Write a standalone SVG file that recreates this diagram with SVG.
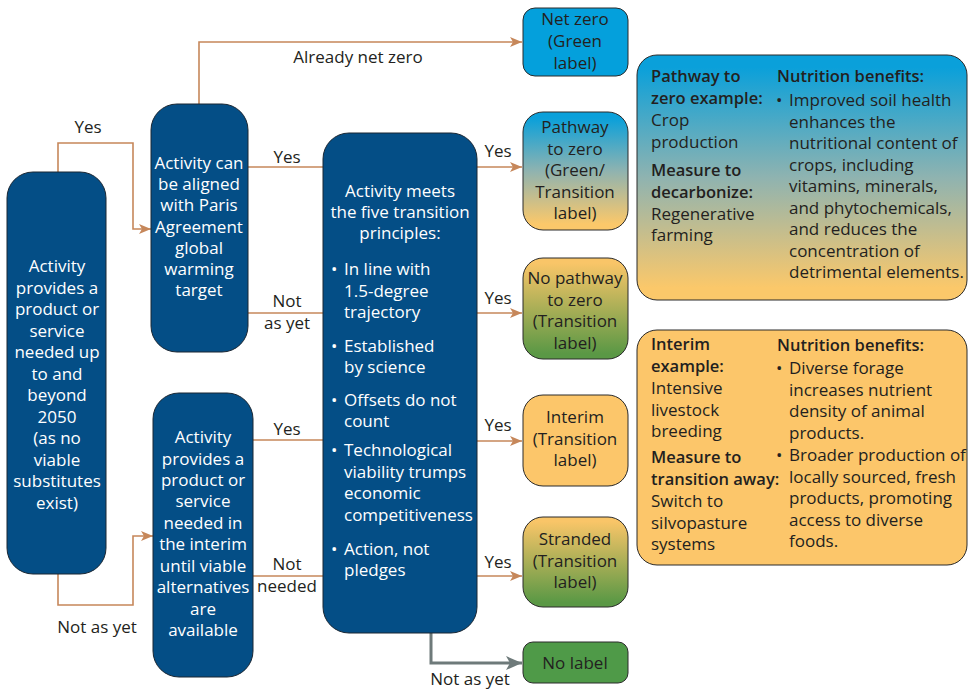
<svg xmlns="http://www.w3.org/2000/svg" width="968" height="690" viewBox="0 0 968 690">
<style>
text{font-family:"Open Sans","Liberation Sans",sans-serif;font-size:17px;fill:#231f20}
.w{fill:#ffffff;text-anchor:middle}
.c{text-anchor:middle}
.b{font-weight:600;font-size:16.5px}
.node{fill:#044e86;stroke:#1b2733;stroke-width:1}
.out{stroke:#2a2a2a;stroke-width:1}
.con{fill:none;stroke:#c6875a;stroke-width:1.6}
.gray{fill:none;stroke:#6e7a7a;stroke-width:3}
</style>
<defs>
<marker id="ah" markerWidth="12" markerHeight="10" refX="12" refY="5" orient="auto" markerUnits="userSpaceOnUse"><path d="M0,0 L12,5 L0,10 L3,5 Z" fill="#c6875a"/></marker>
<marker id="ahg" markerWidth="16" markerHeight="14" refX="16" refY="7" orient="auto" markerUnits="userSpaceOnUse"><path d="M0,0 L16,7 L0,14 L4,7 Z" fill="#6e7a7a"/></marker>
<linearGradient id="gBO" x1="0" y1="0" x2="0" y2="1"><stop offset="0.05" stop-color="#0aa0da"/><stop offset="0.5" stop-color="#8fb3b0"/><stop offset="0.95" stop-color="#fbc86a"/></linearGradient>
<linearGradient id="gOG" x1="0" y1="0" x2="0" y2="1"><stop offset="0.05" stop-color="#f9c568"/><stop offset="0.95" stop-color="#5a9845"/></linearGradient>
</defs>

<g id="connectors">
<polyline class="con" points="58,172 58,143 133,143 133,229 151,229" marker-end="url(#ah)"/>
<polyline class="con" points="58,574 58,605 133,605 133,536 153,536" marker-end="url(#ah)"/>
<polyline class="con" points="199,104 199,42 522,42" marker-end="url(#ah)"/>
<line class="con" x1="248" y1="167" x2="323" y2="167"/>
<line class="con" x1="248" y1="313" x2="323" y2="313"/>
<line class="con" x1="253" y1="440" x2="323" y2="440"/>
<line class="con" x1="253" y1="576" x2="323" y2="576"/>
<line class="con" x1="477" y1="167" x2="522" y2="167" marker-end="url(#ah)"/>
<line class="con" x1="477" y1="313" x2="522" y2="313" marker-end="url(#ah)"/>
<line class="con" x1="477" y1="441" x2="522" y2="441" marker-end="url(#ah)"/>
<line class="con" x1="477" y1="576" x2="522" y2="576" marker-end="url(#ah)"/>
<polyline class="gray" points="431,633 431,663 522,663" marker-end="url(#ahg)"/>
<text class="c" x="88" y="133">Yes</text>
<text class="c" x="97" y="633">Not as yet</text>
<text class="c" x="358" y="63">Already net zero</text>
<text class="c" x="287" y="163">Yes</text>
<text class="c" x="287" y="307">Not</text>
<text class="c" x="287" y="329">as yet</text>
<text class="c" x="287" y="435">Yes</text>
<text class="c" x="287" y="570">Not</text>
<text class="c" x="287" y="592">needed</text>
<text class="c" x="498" y="157">Yes</text>
<text class="c" x="498" y="304">Yes</text>
<text class="c" x="498" y="431">Yes</text>
<text class="c" x="498" y="568">Yes</text>
<text class="c" x="470" y="685">Not as yet</text>
</g>

<g id="n-start">
<rect class="node" x="7" y="172" width="99" height="402" rx="26"/>
<text class="w" x="57"><tspan x="57" y="272">Activity</tspan><tspan x="57" y="293.5">provides a</tspan><tspan x="57" y="315">product or</tspan><tspan x="57" y="336.5">service</tspan><tspan x="57" y="358">needed up</tspan><tspan x="57" y="379.5">to and</tspan><tspan x="57" y="401">beyond</tspan><tspan x="57" y="422.5">2050</tspan><tspan x="57" y="444">(as no</tspan><tspan x="57" y="465.5">viable</tspan><tspan x="57" y="487">substitutes</tspan><tspan x="57" y="508.5">exist)</tspan></text>
</g>

<g id="n-paris">
<rect class="node" x="151" y="104" width="97" height="248" rx="26"/>
<text class="w"><tspan x="199" y="169">Activity can</tspan><tspan x="199" y="190">be aligned</tspan><tspan x="199" y="211">with Paris</tspan><tspan x="199" y="233">Agreement</tspan><tspan x="199" y="254">global</tspan><tspan x="199" y="275">warming</tspan><tspan x="199" y="296">target</tspan></text>
</g>

<g id="n-interim">
<rect class="node" x="153" y="393" width="100" height="284" rx="26"/>
<text class="w"><tspan x="203" y="443">Activity</tspan><tspan x="203" y="465">provides a</tspan><tspan x="203" y="486">product or</tspan><tspan x="203" y="507">service</tspan><tspan x="203" y="529">needed in</tspan><tspan x="203" y="550">the interim</tspan><tspan x="203" y="572">until viable</tspan><tspan x="203" y="593">alternatives</tspan><tspan x="203" y="615">are</tspan><tspan x="203" y="636">available</tspan></text>
</g>

<g id="n-principles">
<rect class="node" x="323" y="133" width="154" height="500" rx="26"/>
<text class="w"><tspan x="400" y="197">Activity meets</tspan><tspan x="400" y="218">the five transition</tspan><tspan x="400" y="239">principles:</tspan></text>
<text style="fill:#fff"><tspan x="331" y="275">•</tspan><tspan x="344" y="275">In line with</tspan><tspan x="344" y="297">1.5-degree</tspan><tspan x="344" y="318">trajectory</tspan>
<tspan x="331" y="352">•</tspan><tspan x="344" y="352">Established</tspan><tspan x="344" y="373">by science</tspan>
<tspan x="331" y="406">•</tspan><tspan x="344" y="406">Offsets do not</tspan><tspan x="344" y="427">count</tspan>
<tspan x="331" y="456">•</tspan><tspan x="344" y="456">Technological</tspan><tspan x="344" y="478">viability trumps</tspan><tspan x="344" y="499">economic</tspan><tspan x="344" y="521">competitiveness</tspan>
<tspan x="331" y="555">•</tspan><tspan x="344" y="555">Action, not</tspan><tspan x="344" y="576">pledges</tspan></text>
</g>

<g id="o-netzero">
<rect class="out" x="523" y="8" width="105" height="68" rx="12" fill="#04a0dc"/>
<text class="c"><tspan x="575" y="25">Net zero</tspan><tspan x="575" y="47">(Green</tspan><tspan x="575" y="69">label)</tspan></text>
</g>

<g id="o-pathway">
<rect class="out" x="523" y="112" width="105" height="118" rx="20" fill="url(#gBO)"/>
<text class="c"><tspan x="575" y="133">Pathway</tspan><tspan x="575" y="154.5">to zero</tspan><tspan x="575" y="176">(Green/</tspan><tspan x="575" y="197.5">Transition</tspan><tspan x="575" y="219">label)</tspan></text>
</g>

<g id="o-nopathway">
<rect class="out" x="523" y="258" width="105" height="101" rx="20" fill="url(#gOG)"/>
<text class="c"><tspan x="575" y="284">No pathway</tspan><tspan x="575" y="305.5">to zero</tspan><tspan x="575" y="327">(Transition</tspan><tspan x="575" y="348.5">label)</tspan></text>
</g>

<g id="o-interim">
<rect class="out" x="523" y="395" width="105" height="91" rx="20" fill="#fcc66a"/>
<text class="c"><tspan x="575" y="423">Interim</tspan><tspan x="575" y="444.5">(Transition</tspan><tspan x="575" y="466">label)</tspan></text>
</g>

<g id="o-stranded">
<rect class="out" x="523" y="517" width="105" height="90" rx="20" fill="url(#gOG)"/>
<text class="c"><tspan x="575" y="545">Stranded</tspan><tspan x="575" y="566.5">(Transition</tspan><tspan x="575" y="588">label)</tspan></text>
</g>

<g id="o-nolabel">
<rect class="out" x="523" y="642" width="105" height="41" rx="10" fill="#4f9a48"/>
<text class="c" x="575" y="669">No label</text>
</g>

<g id="info-pathway">
<rect class="out" x="637" y="55" width="330" height="245" rx="20" fill="url(#gBO)"/>
<text class="b"><tspan x="651" y="82">Pathway to</tspan><tspan x="651" y="104">zero example:</tspan></text>
<text><tspan x="651" y="126">Crop</tspan><tspan x="651" y="147.5">production</tspan></text>
<text class="b"><tspan x="651" y="176">Measure to</tspan><tspan x="651" y="197.5">decarbonize:</tspan></text>
<text><tspan x="651" y="219.5">Regenerative</tspan><tspan x="651" y="241">farming</tspan></text>
<text class="b" x="777" y="82">Nutrition benefits:</text>
<text><tspan x="776" y="106">•</tspan><tspan x="789" y="106">Improved soil health</tspan><tspan x="789" y="127.5">enhances the</tspan><tspan x="789" y="149">nutritional content of</tspan><tspan x="789" y="170.5">crops, including</tspan><tspan x="789" y="192">vitamins, minerals,</tspan><tspan x="789" y="213.5">and phytochemicals,</tspan><tspan x="789" y="235">and reduces the</tspan><tspan x="789" y="256.5">concentration of</tspan><tspan x="789" y="278">detrimental elements.</tspan></text>
</g>

<g id="info-interim">
<rect class="out" x="637" y="330" width="330" height="235" rx="20" fill="#fcc66a"/>
<text class="b"><tspan x="651" y="350">Interim</tspan><tspan x="651" y="372">example:</tspan></text>
<text><tspan x="651" y="394">Intensive</tspan><tspan x="651" y="415.5">livestock</tspan><tspan x="651" y="437">breeding</tspan></text>
<text class="b"><tspan x="651" y="463">Measure to</tspan><tspan x="651" y="485">transition away:</tspan></text>
<text><tspan x="651" y="507">Switch to</tspan><tspan x="651" y="528.5">silvopasture</tspan><tspan x="651" y="550">systems</tspan></text>
<text class="b" x="777" y="351">Nutrition benefits:</text>
<text><tspan x="776" y="374">•</tspan><tspan x="789" y="374">Diverse forage</tspan><tspan x="789" y="395.5">increases nutrient</tspan><tspan x="789" y="417">density of animal</tspan><tspan x="789" y="438.5">products.</tspan>
<tspan x="776" y="461">•</tspan><tspan x="789" y="461">Broader production of</tspan><tspan x="789" y="482.5">locally sourced, fresh</tspan><tspan x="789" y="504">products, promoting</tspan><tspan x="789" y="525.5">access to diverse</tspan><tspan x="789" y="547">foods.</tspan></text>
</g>
</svg>
